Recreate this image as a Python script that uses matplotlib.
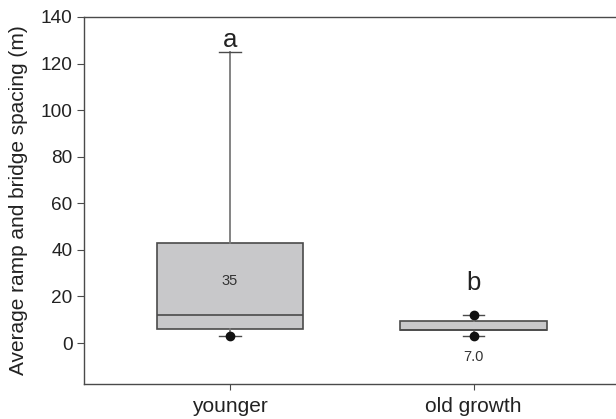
import matplotlib.pyplot as plt

plt.rcParams['font.family'] = ['Liberation Sans', 'DejaVu Sans']

groups = ['younger', 'old growth']
q1 = [5.9, 5.4]
median = [12.2, 5.8]
q3 = [43.1, 9.6]
whisker_low = [3.0, 3.1]
whisker_high = [125.0, 12.0]
outliers = [[3.0], [12.0, 3.1]]
letters = ['a', 'b']
letter_y = [130.3, 25.6]
inner_labels = ['35', '7.0']
inner_y = [26.5, -6]

edge = '#4a4a4a'
fill = '#c8c8ca'
whisk = '#7a7a7a'

fig = plt.figure(figsize=(6.16, 4.19), dpi=100)
ax = fig.add_axes([0.136, 0.0835, 0.87, 0.876])

stats = []
for i, g in enumerate(groups):
    stats.append(dict(label=g, q1=q1[i], med=median[i], q3=q3[i],
                      whislo=whisker_low[i], whishi=whisker_high[i],
                      fliers=outliers[i]))

ax.bxp(stats, positions=[1, 2], widths=0.6, patch_artist=True,
       showfliers=True, capwidths=0.09,
       boxprops=dict(facecolor=fill, edgecolor=edge, linewidth=1.2),
       medianprops=dict(color=edge, linewidth=1.2),
       whiskerprops=dict(color=whisk, linewidth=1.3),
       capprops=dict(color=edge, linewidth=1.0),
       flierprops=dict(marker='o', markerfacecolor='#111111',
                       markeredgecolor='#111111', markersize=6))

for i in range(len(groups)):
    ax.text(i + 1, letter_y[i], letters[i], ha='center', va='center',
            fontsize=18.5, color='#222222')
    ax.text(i + 1, inner_y[i], inner_labels[i], ha='center', va='center',
            fontsize=10.5, color='#333333')

ax.set_xlim(0.4, 2.6)
ax.set_ylim(-17.6, 140)
ax.set_yticks(range(0, 141, 20))
ax.set_xticks([1, 2])
ax.set_xticklabels(groups)
ax.set_ylabel('Average ramp and bridge spacing (m)', fontsize=15,
              color='#222222', labelpad=9)
ax.tick_params(axis='y', labelsize=13.7, length=5, color=edge,
               labelcolor='#222222', pad=3)
ax.tick_params(axis='x', labelsize=15, length=4, color=edge,
               labelcolor='#222222', pad=5)
ax.spines['right'].set_visible(False)
for s in ['top', 'left', 'bottom']:
    ax.spines[s].set_color(edge)
    ax.spines[s].set_linewidth(1.0)

fig.savefig('out.png', dpi=100)
